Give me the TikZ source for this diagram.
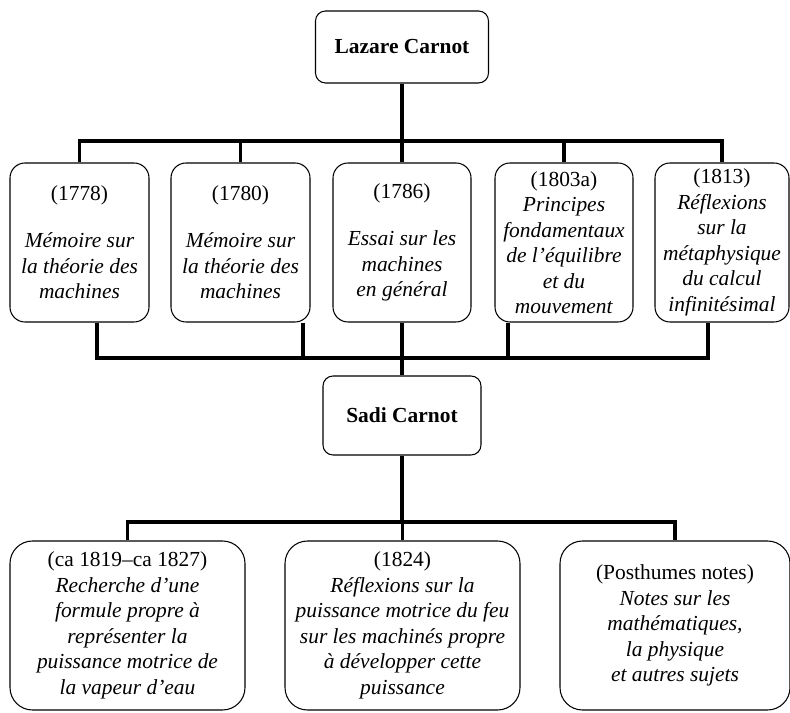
\documentclass[tikz,border=0pt]{standalone}
\usepackage{fontspec}
\setmainfont{Liberation Serif}
\usetikzlibrary{positioning, calc}

\begin{document}
\begin{tikzpicture}[
    txt/.style={font=\fontsize{12.2}{14.5}\selectfont},
    person/.style={draw, line width=0.6pt, rounded corners=0.2cm, font=\fontsize{12.2}{14.5}\selectfont\bfseries},
    work/.style={txt, draw, line width=0.6pt, rounded corners=0.3cm, align=center, inner sep=0pt, minimum height=3.18cm},
    later/.style={txt, draw, line width=0.6pt, rounded corners=0.45cm, align=center, inner sep=0pt, minimum width=4.7cm, minimum height=3.38cm},
    bus/.style={line width=1.9pt}
]
    \useasboundingbox (0,0) rectangle (15.8,14.24);

    % Father
    \node[person, minimum width=3.46cm, minimum height=1.44cm] (lazare) at (8.04,13.3) {Lazare Carnot};

    % His works
    \node[work, minimum width=2.78cm] (w1) at (1.59,9.39) {(1778)\\[0.43cm] \textit{Mémoire sur}\\ \textit{la théorie des}\\ \textit{machines}};
    \node[work, minimum width=2.78cm] (w2) at (4.81,9.39) {(1780)\\[0.43cm] \textit{Mémoire sur}\\ \textit{la théorie des}\\ \textit{machines}};
    \node[work, minimum width=2.76cm] (w3) at (8.04,9.39) {(1786)\\[0.43cm] \textit{Essai sur les}\\ \textit{machines}\\ \textit{en général}};
    \node[work, minimum width=2.76cm] (w4) at (11.28,9.39) {(1803a)\\ \textit{Principes}\\ \textit{fondamentaux}\\ \textit{de l'équilibre}\\ \textit{et du}\\ \textit{mouvement}};
    \node[work, minimum width=2.68cm] (w5) at (14.44,9.39) {(1813)\\ \textit{Réflexions}\\ \textit{sur la}\\ \textit{métaphysique}\\ \textit{du calcul}\\ \textit{infinitésimal}};

    % Son
    \node[person, minimum width=3.16cm, minimum height=1.58cm] (sadi) at (8.04,5.93) {Sadi Carnot};

    % Son's works
    \node[later] (l1) at (2.55,1.73) {(ca 1819--ca 1827)\\ \textit{Recherche d'une}\\ \textit{formule propre à}\\ \textit{représenter la}\\ \textit{puissance motrice de}\\ \textit{la vapeur d'eau}};
    \node[later] (l2) at (8.05,1.73) {(1824)\\ \textit{Réflexions sur la}\\ \textit{puissance motrice du feu}\\ \textit{sur les machinés propre}\\ \textit{à développer cette}\\ \textit{puissance}};
    \node[later, minimum width=4.6cm] (l3) at (13.5,1.73) {(Posthumes notes)\\ \textit{Notes sur les}\\ \textit{mathématiques,}\\ \textit{la physique}\\ \textit{et autres sujets}};

    % Bus lines
    \coordinate (topbus) at (8.04,11.42);
    \coordinate (lowbus) at (8.04,7.08);
    \coordinate (midbus) at (8.04,3.8);

    \draw[bus] (lazare.south) -- (topbus);
    \foreach \w in {w1,w2,w3,w4,w5}
        \draw[bus] (topbus) -| (\w.north);

    \draw[bus] ([xshift=0.35cm]w1.south) |- (lowbus);
    \draw[bus] ([xshift=1.25cm]w2.south) |- (lowbus);
    \draw[bus] (w3.south) -- (lowbus);
    \draw[bus] ([xshift=-1.12cm]w4.south) |- (lowbus);
    \draw[bus] ([xshift=-0.28cm]w5.south) |- (lowbus);
    \draw[bus] (lowbus) -- (sadi.north);

    \draw[bus] (sadi.south) -- (midbus);
    \foreach \l in {l1,l2,l3}
        \draw[bus] (midbus) -| (\l.north);
\end{tikzpicture}
\end{document}
